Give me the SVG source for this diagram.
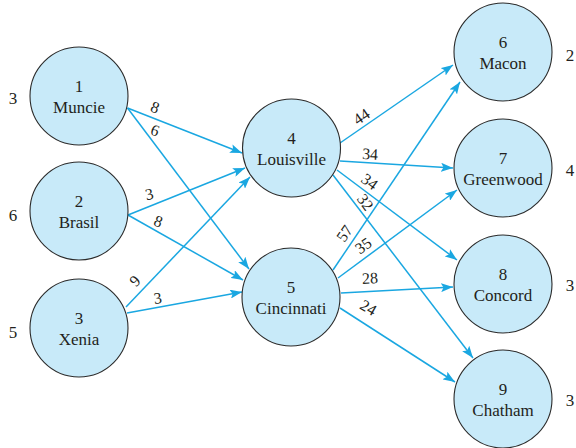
<svg xmlns="http://www.w3.org/2000/svg" width="576" height="448" viewBox="0 0 576 448">
<style>
.node circle{fill:#c8eaf9;stroke:#2b2b2b;stroke-width:1.1}
text{font-family:"Liberation Serif","Times New Roman",serif;fill:#231f20}
.nt{font-size:17px;text-anchor:middle}
.side{font-size:17px;text-anchor:middle}
.el{font-size:16px;text-anchor:middle}
.edges line{stroke:#1aa7e1;stroke-width:1.5;fill:none}
</style>
<defs>
<marker id="ah" markerUnits="userSpaceOnUse" markerWidth="13" markerHeight="9" refX="12" refY="4.5" orient="auto">
<path d="M0,0 L12,4.5 L0,9 L2.5,4.5 z" fill="#1aa7e1"/>
</marker>
</defs>
<rect width="576" height="448" fill="#ffffff"/>
<g class="edges">
<line x1="127.5" y1="108" x2="242" y2="153" marker-end="url(#ah)"/>
<line x1="127.5" y1="108" x2="249" y2="269" marker-end="url(#ah)"/>
<line x1="128" y1="215" x2="245" y2="168" marker-end="url(#ah)"/>
<line x1="128" y1="215" x2="243" y2="280" marker-end="url(#ah)"/>
<line x1="126" y1="307" x2="250" y2="177" marker-end="url(#ah)"/>
<line x1="127" y1="313" x2="242" y2="292" marker-end="url(#ah)"/>
<line x1="340" y1="143" x2="453" y2="65" marker-end="url(#ah)"/>
<line x1="340" y1="161" x2="453" y2="168" marker-end="url(#ah)"/>
<line x1="337" y1="170" x2="457" y2="260" marker-end="url(#ah)"/>
<line x1="333" y1="175" x2="473" y2="358" marker-end="url(#ah)"/>
<line x1="333" y1="270" x2="460" y2="82" marker-end="url(#ah)"/>
<line x1="338" y1="278" x2="457" y2="190" marker-end="url(#ah)"/>
<line x1="341" y1="293" x2="453" y2="287" marker-end="url(#ah)"/>
<line x1="340" y1="308" x2="455" y2="382" marker-end="url(#ah)"/>
</g>
<g class="edge-labels">
<text class="el" x="154" y="112.5" transform="rotate(20 154 110)">8</text>
<text class="el" x="154" y="135.5" transform="rotate(20 154 133)">6</text>
<text class="el" x="150" y="199.5" transform="rotate(-12 150 197)">3</text>
<text class="el" x="157" y="226.5" transform="rotate(20 157 225)">8</text>
<text class="el" x="137" y="285.5" transform="rotate(-46 137 283)">9</text>
<text class="el" x="158" y="303.5" transform="rotate(-8 158 301)">3</text>
<text class="el" x="363" y="121.5" transform="rotate(-34 363 119)">44</text>
<text class="el" x="370" y="159.5" transform="rotate(3 370 157)">34</text>
<text class="el" x="368" y="186.5" transform="rotate(36 368 184)">34</text>
<text class="el" x="363" y="206.5" transform="rotate(53 363 204)">32</text>
<text class="el" x="347" y="237.5" transform="rotate(-56 347 235)">57</text>
<text class="el" x="365" y="250.5" transform="rotate(-36 365 248)">35</text>
<text class="el" x="370" y="283.5" transform="rotate(-3 370 281)">28</text>
<text class="el" x="367" y="312.5" transform="rotate(30 367 310)">24</text>
</g>
<g id="node1" class="node"><circle cx="79" cy="96" r="49"/><text class="nt" x="79" y="92">1</text><text class="nt" x="79" y="113">Muncie</text></g>
<g id="node2" class="node"><circle cx="79" cy="211" r="49"/><text class="nt" x="79" y="207">2</text><text class="nt" x="79" y="228">Brasil</text></g>
<g id="node3" class="node"><circle cx="79" cy="328" r="49"/><text class="nt" x="79" y="324">3</text><text class="nt" x="79" y="345">Xenia</text></g>
<g id="node4" class="node"><circle cx="291.5" cy="148" r="49"/><text class="nt" x="291.5" y="144">4</text><text class="nt" x="291.5" y="165">Louisville</text></g>
<g id="node5" class="node"><circle cx="291" cy="297" r="49"/><text class="nt" x="291" y="293">5</text><text class="nt" x="291" y="314">Cincinnati</text></g>
<g id="node6" class="node"><circle cx="503" cy="52" r="49"/><text class="nt" x="503" y="48">6</text><text class="nt" x="503" y="69">Macon</text></g>
<g id="node7" class="node"><circle cx="503" cy="168" r="49"/><text class="nt" x="503" y="164">7</text><text class="nt" x="503" y="185">Greenwood</text></g>
<g id="node8" class="node"><circle cx="503" cy="284" r="49"/><text class="nt" x="503" y="280">8</text><text class="nt" x="503" y="301">Concord</text></g>
<g id="node9" class="node"><circle cx="503" cy="399" r="49"/><text class="nt" x="503" y="395">9</text><text class="nt" x="503" y="416">Chatham</text></g>
<g class="side-labels">
<text class="side" x="13" y="104">3</text>
<text class="side" x="13" y="221">6</text>
<text class="side" x="13" y="338">5</text>
<text class="side" x="570" y="61">2</text>
<text class="side" x="570" y="176">4</text>
<text class="side" x="570" y="291">3</text>
<text class="side" x="570" y="406">3</text>
</g>
</svg>
